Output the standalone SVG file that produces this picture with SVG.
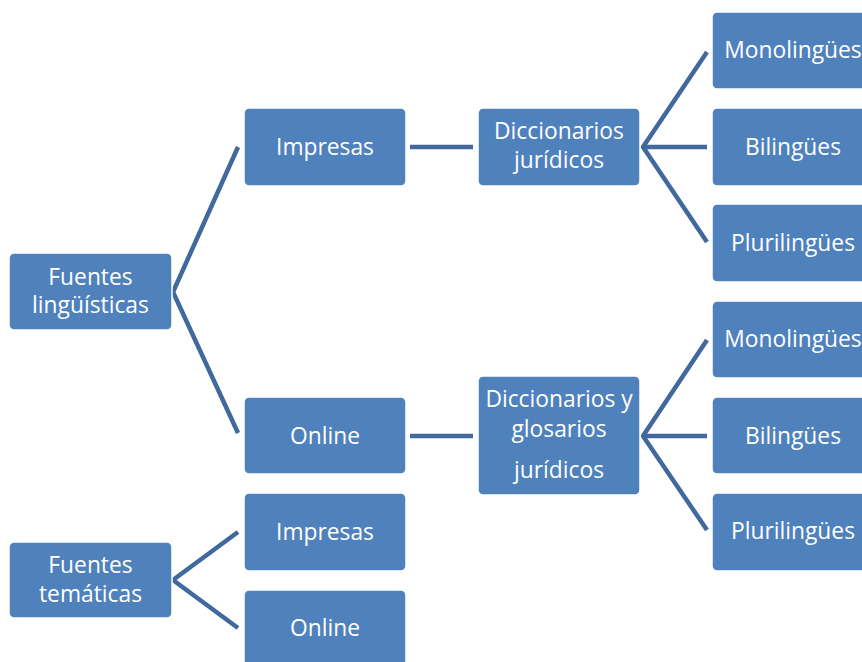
<svg xmlns="http://www.w3.org/2000/svg" width="862" height="662" viewBox="0 0 862 662">
<style>
.box{fill:#4F81BD;stroke:#FFFFFF;stroke-width:1.5}
.t{font-family:"Open Sans","Noto Sans","Liberation Sans",sans-serif;font-size:22.8px;fill:#FFFFFF;text-anchor:middle}
.c{fill:none;stroke:#41699D;stroke-width:4.5;stroke-linejoin:miter}
</style>
<rect width="862" height="662" fill="#FFFFFF"/>
<g id="connectors">
<polyline class="c" points="238,147 173,292 238,433"/>
<line class="c" x1="410" y1="147" x2="473" y2="147"/>
<line class="c" x1="410" y1="436" x2="473" y2="436"/>
<polyline class="c" points="707,52 643,147 707,242"/>
<line class="c" x1="643" y1="147" x2="707" y2="147"/>
<polyline class="c" points="707,340 643,436 707,530"/>
<line class="c" x1="643" y1="436" x2="707" y2="436"/>
<polyline class="c" points="238,532 173,580 238,628"/>
</g>
<g id="fuentes-linguisticas">
<rect class="box" x="9" y="253" width="163" height="77" rx="5"/>
<text class="t" x="90.5" y="285">Fuentes</text>
<text class="t" x="90.5" y="313">lingüísticas</text>
</g>
<g id="impresas-1">
<rect class="box" x="244" y="108" width="162" height="78" rx="5"/>
<text class="t" x="325" y="155">Impresas</text>
</g>
<g id="online-1">
<rect class="box" x="244" y="397" width="162" height="77" rx="5"/>
<text class="t" x="325" y="444">Online</text>
</g>
<g id="diccionarios-juridicos">
<rect class="box" x="478" y="108" width="162" height="78" rx="5"/>
<text class="t" x="559" y="139">Diccionarios</text>
<text class="t" x="559" y="168">jurídicos</text>
</g>
<g id="diccionarios-glosarios">
<rect class="box" x="478" y="376" width="162" height="119" rx="5"/>
<text class="t" x="559" y="407">Diccionarios y</text>
<text class="t" x="559" y="437">glosarios</text>
<text class="t" x="559" y="478">jurídicos</text>
</g>
<g id="monolingues-1">
<rect class="box" x="712" y="12" width="162" height="77" rx="5"/>
<text class="t" x="793" y="58">Monolingües</text>
</g>
<g id="bilingues-1">
<rect class="box" x="712" y="108" width="162" height="78" rx="5"/>
<text class="t" x="793" y="155">Bilingües</text>
</g>
<g id="plurilingues-1">
<rect class="box" x="712" y="204" width="162" height="78" rx="5"/>
<text class="t" x="793" y="251">Plurilingües</text>
</g>
<g id="monolingues-2">
<rect class="box" x="712" y="301" width="162" height="77" rx="5"/>
<text class="t" x="793" y="347">Monolingües</text>
</g>
<g id="bilingues-2">
<rect class="box" x="712" y="397" width="162" height="77" rx="5"/>
<text class="t" x="793" y="444">Bilingües</text>
</g>
<g id="plurilingues-2">
<rect class="box" x="712" y="493" width="162" height="78" rx="5"/>
<text class="t" x="793" y="539">Plurilingües</text>
</g>
<g id="fuentes-tematicas">
<rect class="box" x="9" y="542" width="163" height="76" rx="5"/>
<text class="t" x="90.5" y="573">Fuentes</text>
<text class="t" x="90.5" y="602">temáticas</text>
</g>
<g id="impresas-2">
<rect class="box" x="244" y="493" width="162" height="78" rx="5"/>
<text class="t" x="325" y="540">Impresas</text>
</g>
<g id="online-2">
<rect class="box" x="244" y="590" width="162" height="80" rx="5"/>
<text class="t" x="325" y="636">Online</text>
</g>
</svg>
